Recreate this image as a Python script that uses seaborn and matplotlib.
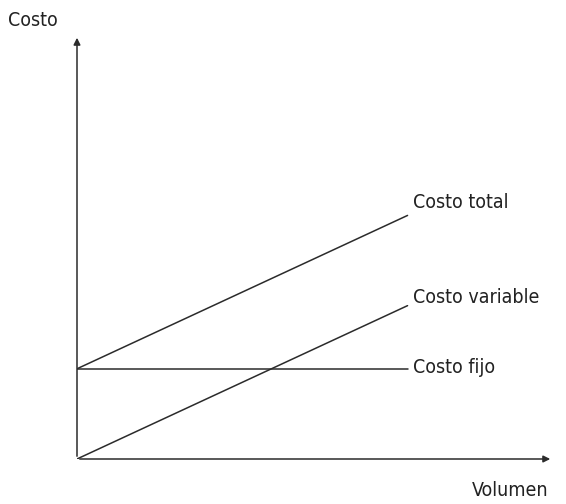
import pandas as pd
import matplotlib
matplotlib.use("Agg")
import matplotlib.pyplot as plt
import seaborn as sns

# datos del gráfico (unidades arbitrarias)
volumen = [0, 10]
costo_fijo = [3.0, 3.0]
costo_variable = [0.0, 5.1]
costo_total = [3.0, 8.1]
nombres = ["Costo total", "Costo variable", "Costo fijo"]

df = pd.DataFrame({
    "Volumen": volumen * 3,
    "Costo": costo_total + costo_variable + costo_fijo,
    "Serie": [nombres[0]] * 2 + [nombres[1]] * 2 + [nombres[2]] * 2,
})

sns.set_style("white")
plt.rcParams['font.family'] = ['DejaVu Sans']
plt.rcParams['font.stretch'] = 'condensed'

fig = plt.figure(figsize=(5.66, 5.04), dpi=100)
ax = fig.add_axes([77 / 566, 45 / 504, 476 / 566, 424 / 504])

sns.lineplot(data=df, x="Volumen", y="Costo", units="Serie", estimator=None,
             color="#2b2b2b", linewidth=1.1, ax=ax, legend=False)

xmax, ymax = 14.4, 14.1
ax.set_xlim(0, xmax)
ax.set_ylim(0, ymax)
for s in ax.spines.values():
    s.set_visible(False)
ax.set_xticks([])
ax.set_yticks([])
ax.set_xlabel("")
ax.set_ylabel("")

# ejes con flecha
arrow = dict(arrowstyle="-|>", color="#2b2b2b", lw=1.1, mutation_scale=10)
ax.annotate("", xy=(xmax, 0), xytext=(0, 0), arrowprops=arrow, annotation_clip=False)
ax.annotate("", xy=(0, ymax), xytext=(0, 0), arrowprops=arrow, annotation_clip=False)

# etiquetas de las rectas
finales = [costo_total[-1], costo_variable[-1], costo_fijo[-1]]
ajustes = [9, 6, 1]
for nombre, yv, dy in zip(nombres, finales, ajustes):
    ax.annotate(nombre, xy=(volumen[-1], yv), xytext=(4, dy), textcoords="offset points",
                ha="left", va="center", fontsize=14, color="#222222")

fig.text(8 / 566, 1 - 20 / 504, "Costo", ha="left", va="center", fontsize=14, color="#222222")
fig.text(510 / 566, 1 - 490 / 504, "Volumen", ha="center", va="center", fontsize=14, color="#222222")

fig.savefig("out.png", dpi=100)
